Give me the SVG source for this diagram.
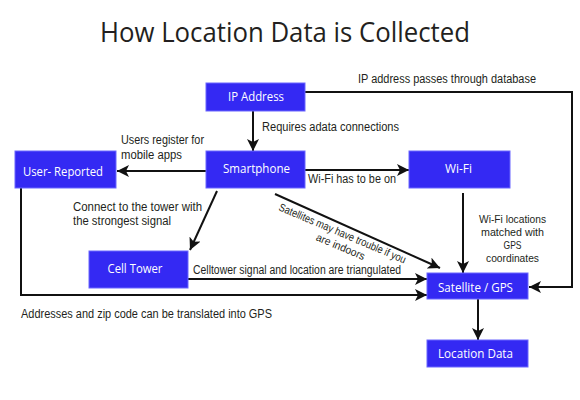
<svg xmlns="http://www.w3.org/2000/svg" width="580" height="400" viewBox="0 0 580 400">
  <style>
    .box { fill: #3429f3; stroke: #6b66ff; stroke-width: 1; }
    .bl { font-family: "Open Sans", "Liberation Sans", sans-serif; font-size: 13px; fill: #ffffff; text-anchor: middle; }
    .lbl { font-family: "Liberation Sans", Arial, sans-serif; font-size: 12px; fill: #231f20; }
    .sm { font-family: "Liberation Sans", Arial, sans-serif; font-size: 11px; fill: #231f20; text-anchor: middle; }
    .title { font-family: "Open Sans", "Liberation Sans", sans-serif; font-size: 28px; fill: #231f20; text-anchor: middle; }
    .conn { fill: none; stroke: #111111; stroke-width: 2; marker-end: url(#arr); }
  </style>
  <defs>
    <marker id="arr" markerUnits="userSpaceOnUse" markerWidth="13" markerHeight="12" refX="12" refY="6" orient="auto">
      <path d="M0,0 L12,6 L0,12 L3,6 Z" fill="#111111"/>
    </marker>
  </defs>
  <rect width="580" height="400" fill="#ffffff"/>

  <text class="title" x="285" y="42" textLength="370" lengthAdjust="spacingAndGlyphs">How Location Data is Collected</text>

  <g id="connectors">
    <path class="conn" d="M253,111 V151"/>
    <path class="conn" d="M206,171 H117"/>
    <path class="conn" d="M305,170 H409"/>
    <path class="conn" d="M305,92 H572 V287 H529"/>
    <path class="conn" d="M463,193 V273"/>
    <path class="conn" d="M217,191 L190,250"/>
    <path class="conn" d="M275,194 L440,268"/>
    <path class="conn" d="M188,279 H427"/>
    <path class="conn" d="M21,188 V295 H427"/>
    <path class="conn" d="M478,299 V340"/>
  </g>

  <g id="labels">
    <text class="lbl" x="121" y="144" textLength="83" lengthAdjust="spacingAndGlyphs">Users register for</text>
    <text class="lbl" x="121" y="159" textLength="61" lengthAdjust="spacingAndGlyphs">mobile apps</text>
    <text class="lbl" x="262" y="131" textLength="137" lengthAdjust="spacingAndGlyphs">Requires adata connections</text>
    <text class="lbl" x="358" y="83" textLength="178" lengthAdjust="spacingAndGlyphs">IP address passes through database</text>
    <text class="lbl" x="308" y="183" textLength="88" lengthAdjust="spacingAndGlyphs">Wi-Fi has to be on</text>
    <text class="lbl" x="73" y="211" textLength="129" lengthAdjust="spacingAndGlyphs">Connect to the tower with</text>
    <text class="lbl" x="73" y="225" textLength="98" lengthAdjust="spacingAndGlyphs">the strongest signal</text>
    <text class="lbl" x="193" y="274" textLength="208" lengthAdjust="spacingAndGlyphs">Celltower signal and location are triangulated</text>
    <text class="lbl" x="21" y="318" textLength="251" lengthAdjust="spacingAndGlyphs">Addresses and zip code can be translated into GPS</text>
    <text class="sm" x="512.5" y="223" textLength="67" lengthAdjust="spacingAndGlyphs">Wi-Fi locations</text>
    <text class="sm" x="512.5" y="236" textLength="63" lengthAdjust="spacingAndGlyphs">matched with</text>
    <text class="sm" x="512.5" y="249" textLength="18" lengthAdjust="spacingAndGlyphs">GPS</text>
    <text class="sm" x="512.5" y="261.5" textLength="53" lengthAdjust="spacingAndGlyphs">coordinates</text>
    <g transform="translate(278,210) rotate(23)">
      <text class="sm" x="68.5" y="0" font-size="10.5" textLength="137" lengthAdjust="spacingAndGlyphs">Satellites may have trouble if you</text>
      <text class="sm" x="72" y="13" font-size="10.5" textLength="52" lengthAdjust="spacingAndGlyphs">are indoors</text>
    </g>
  </g>

  <g id="ip-address">
    <rect class="box" x="206" y="83" width="99" height="28"/>
    <text class="bl" x="256" y="101" textLength="56" lengthAdjust="spacingAndGlyphs">IP Address</text>
  </g>
  <g id="smartphone">
    <rect class="box" x="206" y="151" width="99" height="37"/>
    <text class="bl" x="256.5" y="173" textLength="67" lengthAdjust="spacingAndGlyphs">Smartphone</text>
  </g>
  <g id="user-reported">
    <rect class="box" x="15" y="151" width="101" height="37"/>
    <text class="bl" x="63" y="175.5" textLength="80" lengthAdjust="spacingAndGlyphs">User- Reported</text>
  </g>
  <g id="wi-fi">
    <rect class="box" x="409" y="151" width="101" height="37"/>
    <text class="bl" x="458.5" y="173" textLength="27" lengthAdjust="spacingAndGlyphs">Wi-Fi</text>
  </g>
  <g id="cell-tower">
    <rect class="box" x="89" y="251" width="99" height="37"/>
    <text class="bl" x="135" y="273" textLength="55" lengthAdjust="spacingAndGlyphs">Cell Tower</text>
  </g>
  <g id="satellite-gps">
    <rect class="box" x="427" y="273" width="101" height="26"/>
    <text class="bl" x="475.5" y="292" textLength="75" lengthAdjust="spacingAndGlyphs">Satellite / GPS</text>
  </g>
  <g id="location-data">
    <rect class="box" x="427" y="340" width="101" height="27"/>
    <text class="bl" x="475.5" y="358" textLength="75" lengthAdjust="spacingAndGlyphs">Location Data</text>
  </g>
</svg>
